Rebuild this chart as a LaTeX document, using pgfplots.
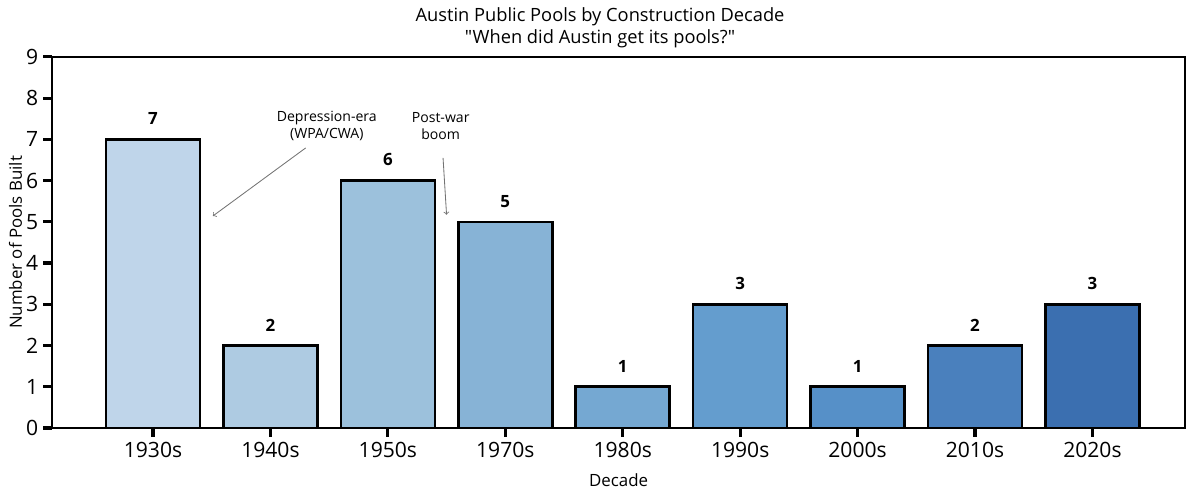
\documentclass[border=0pt]{standalone}
\usepackage{pgfplots}
\pgfplotsset{compat=1.18}
\usepackage{fontspec}
\setmainfont{Open Sans}[Ligatures=TeXOff]

\definecolor{c1}{RGB}{191,213,234}
\definecolor{c2}{RGB}{174,203,226}
\definecolor{c3}{RGB}{156,193,220}
\definecolor{c4}{RGB}{135,179,214}
\definecolor{c5}{RGB}{117,168,210}
\definecolor{c6}{RGB}{100,157,206}
\definecolor{c7}{RGB}{86,144,200}
\definecolor{c8}{RGB}{74,128,189}
\definecolor{c9}{RGB}{59,111,176}

\begin{document}
\begin{tikzpicture}
\path (-1.3cm,-1.725cm) rectangle (28.7cm,10.7cm);
\begin{axis}[
    at={(0,0)}, anchor=south west,
    width=28.33cm, height=9.28cm,
    scale only axis,
    ybar,
    bar width=0.8,
    bar shift=0pt,
    xmin=-0.86, xmax=8.79,
    ymin=0, ymax=9,
    xtick={0,...,8},
    xticklabels={1930s,1940s,1950s,1970s,1980s,1990s,2000s,2010s,2020s},
    ytick={0,...,9},
    tick align=outside,
    major tick length=0.22cm,
    tick style={black, line width=2.2pt},
    xtick pos=bottom, ytick pos=left,
    axis line style={black, line width=1.6pt},
    ticklabel style={font=\fontsize{15}{18}\selectfont},
    /pgf/number format/assume math mode=true,
    xlabel={Decade},
    ylabel={Number of Pools Built},
    label style={font=\fontsize{12}{14}\selectfont},
    xlabel style={yshift=-5pt},
    ylabel style={yshift=-4pt},
    nodes near coords,
    every node near coord/.append style={font=\fontsize{12}{14}\selectfont\bfseries, black, yshift=6pt},
    every axis plot/.append style={draw=black, line width=1.8pt},
    clip=false,
]
\addplot[fill=c1] coordinates {(0,7)};
\addplot[fill=c2] coordinates {(1,2)};
\addplot[fill=c3] coordinates {(2,6)};
\addplot[fill=c4] coordinates {(3,5)};
\addplot[fill=c5] coordinates {(4,1)};
\addplot[fill=c6] coordinates {(5,3)};
\addplot[fill=c7] coordinates {(6,1)};
\addplot[fill=c8] coordinates {(7,2)};
\addplot[fill=c9] coordinates {(8,3)};

\draw[->, gray!90!black, line width=0.6pt] (axis cs:1.30,6.79) -- (axis cs:0.51,5.14);
\node[align=center, font=\fontsize{10}{12}\selectfont, inner sep=1pt] at (axis cs:1.48,7.33) {Depression-era\\(WPA/CWA)};
\draw[->, gray!90!black, line width=0.6pt] (axis cs:2.47,6.55) -- (axis cs:2.50,5.17);
\node[align=center, font=\fontsize{10}{12}\selectfont, inner sep=1pt] at (axis cs:2.45,7.33) {Post-war\\boom};
\end{axis}
\node[align=center, font=\fontsize{13}{15.5}\selectfont] at (13.7cm,10.0cm) {Austin Public Pools by Construction Decade\\"When did Austin get its pools?"};
\end{tikzpicture}
\end{document}
